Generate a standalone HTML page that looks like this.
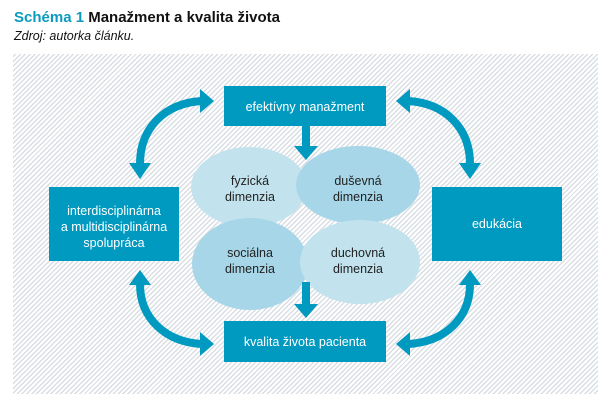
<!DOCTYPE html>
<html><head><meta charset="utf-8"><style>
body{margin:0;width:612px;height:410px;background:#fff;font-family:"Liberation Sans Narrow","Liberation Sans",sans-serif;position:relative;overflow:hidden}
.t{position:absolute;left:14px;top:9px;font-size:15px;font-weight:bold;color:#111}
.t span{color:#0b9bbf}
.s{position:absolute;left:14px;top:29px;font-size:12.5px;font-style:italic;color:#111}
.bg{position:absolute;left:13px;top:54px;width:585px;height:340px;background:repeating-linear-gradient(-45deg,#fff 0 2px,#d9dee3 2px 3.4px)}
svg{position:absolute;left:0;top:0}
</style></head><body>
<div class="t"><span>Schéma 1</span> Manažment a kvalita života</div>
<div class="s">Zdroj: autorka článku.</div>
<div class="bg"></div>
<svg width="612" height="410" font-family="Liberation Sans Narrow, Liberation Sans, sans-serif" font-size="12.5" text-anchor="middle">
<g fill="#0099bf">
<rect x="224" y="86" width="162" height="40"/>
<rect x="49" y="187" width="130" height="74"/>
<rect x="432" y="187" width="130" height="74"/>
<rect x="224" y="321" width="162" height="41"/>
</g>
<ellipse cx="249" cy="187" rx="58" ry="40" fill="#c2e3ee"/>
<ellipse cx="358" cy="185" rx="62" ry="39" fill="#a6d6e7"/>
<ellipse cx="250" cy="264" rx="58" ry="46" fill="#a6d6e7"/>
<ellipse cx="360" cy="262" rx="60" ry="42" fill="#c2e3ee"/>
<g fill="#0099bf">
<rect x="302" y="126" width="8" height="22"/><polygon points="294,146 318,146 306,160"/>
<rect x="302" y="282" width="8" height="24"/><polygon points="294,304 318,304 306,318"/>
</g>
<g fill="none" stroke="#0099bf" stroke-width="8">
<path d="M140,164 C140,128 165,103 202,101"/>
<path d="M470,164 C470,128 445,103 408,101"/>
<path d="M140,284 C140,318 165,342 202,344"/>
<path d="M470,284 C470,318 445,342 408,344"/>
</g>
<g fill="#0099bf">
<polygon points="129,163 151,163 140,179"/>
<polygon points="200,89 200,113 214,101"/>
<polygon points="459,163 481,163 470,179"/>
<polygon points="410,89 410,113 396,101"/>
<polygon points="129,285 151,285 140,270"/>
<polygon points="200,332 200,356 214,344"/>
<polygon points="459,285 481,285 470,270"/>
<polygon points="410,332 410,356 396,344"/>
</g>
<g fill="#fff">
<text x="305" y="111">efektívny manažment</text>
<text x="114" y="215">interdisciplinárna</text>
<text x="114" y="231">a multidisciplinárna</text>
<text x="114" y="247">spolupráca</text>
<text x="497" y="228">edukácia</text>
<text x="305" y="346">kvalita života pacienta</text>
</g>
<g fill="#222">
<text x="250" y="185">fyzická</text><text x="250" y="201">dimenzia</text>
<text x="358" y="185">duševná</text><text x="358" y="201">dimenzia</text>
<text x="250" y="257">sociálna</text><text x="250" y="273">dimenzia</text>
<text x="358" y="257">duchovná</text><text x="358" y="273">dimenzia</text>
</g>
</svg>
</body></html>
